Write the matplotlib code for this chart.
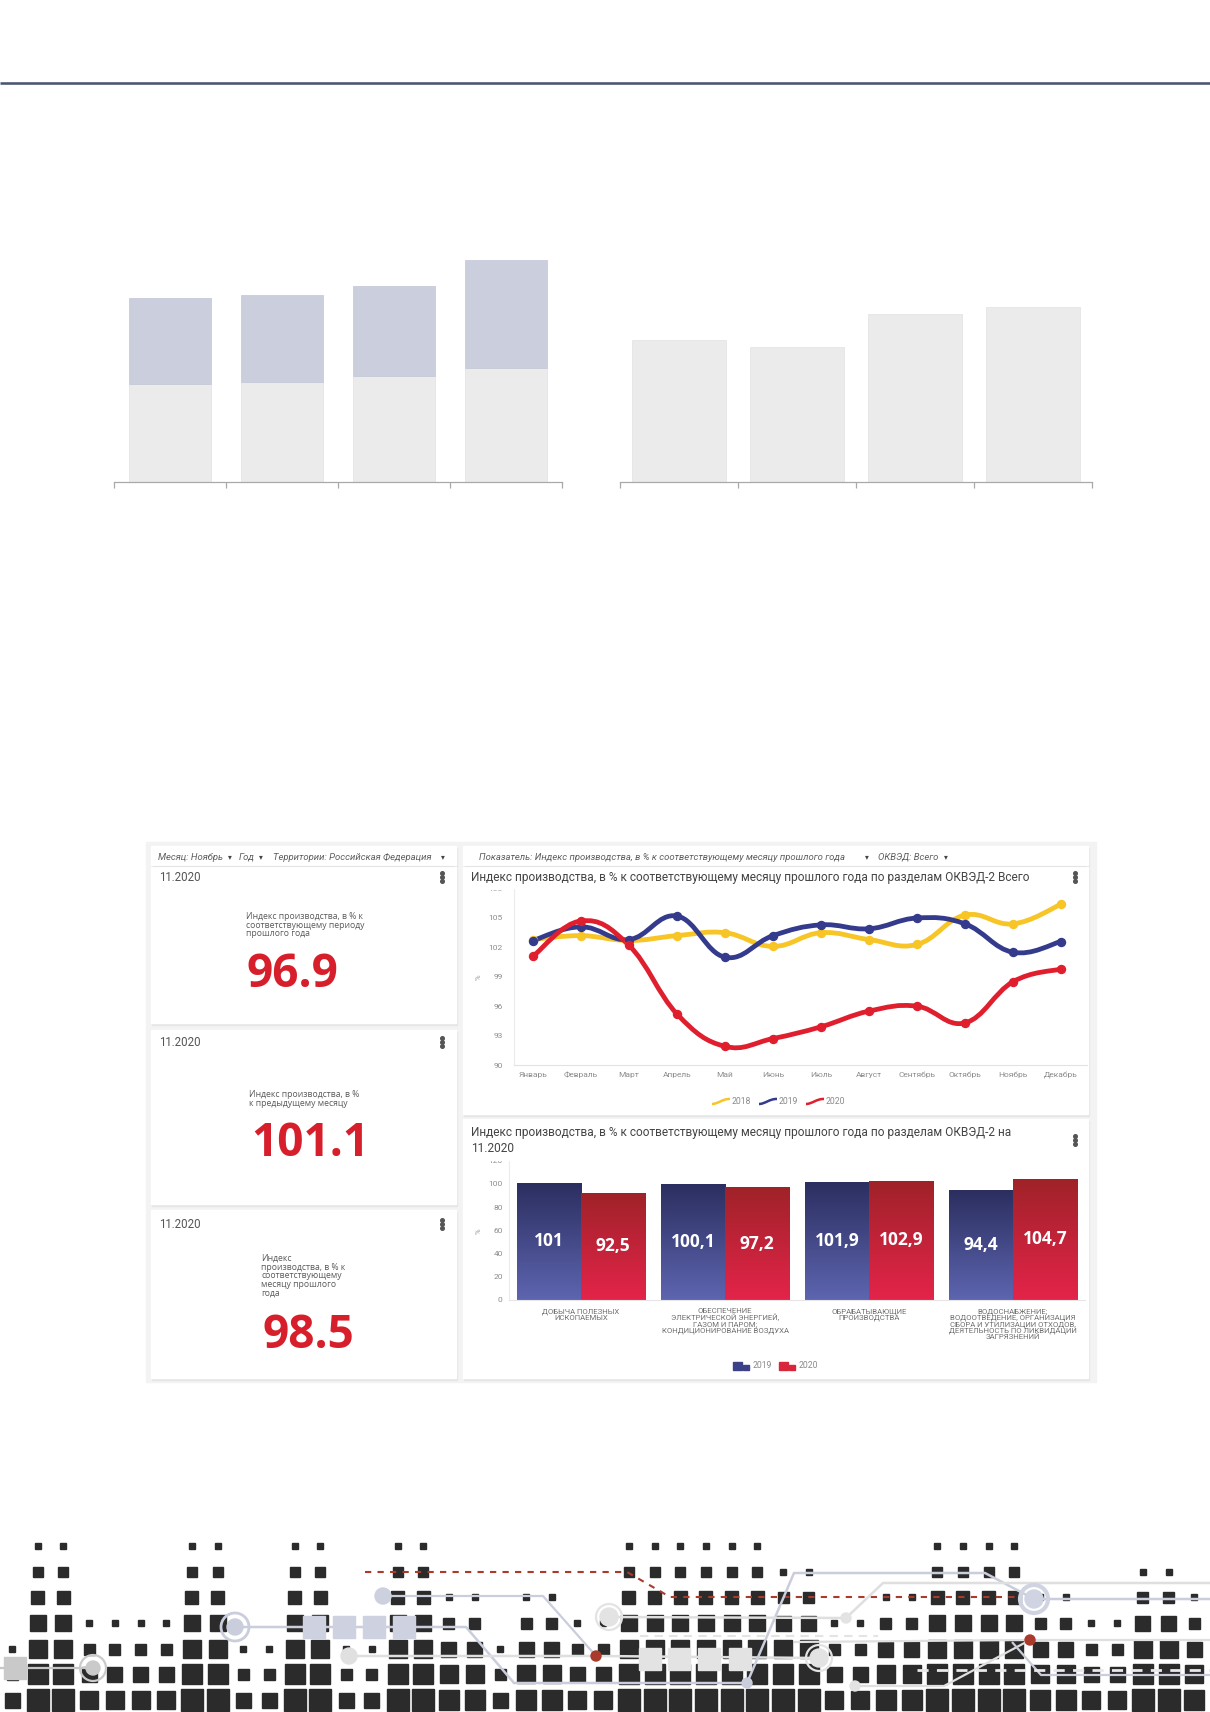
import numpy as np
import matplotlib
matplotlib.use("Agg")
import matplotlib.pyplot as plt
from matplotlib.patches import Rectangle, Circle, PathPatch
from matplotlib.path import Path
from matplotlib.colors import LinearSegmentedColormap

W, H = 1210, 1712
PT = 0.72  # points per pixel at dpi 100

# --- data ---------------------------------------------------------------
top_left_base = [98, 100, 106, 114]
top_left_upper = [86, 87, 90, 108]
top_right_vals = [142, 135, 168, 175]

months = ["Январь", "Февраль", "Март", "Апрель", "Май", "Июнь",
          "Июль", "Август", "Сентябрь", "Октябрь", "Ноябрь", "Декабрь"]
years = ["2018", "2019", "2020"]
idx_2018 = [102.8, 103.2, 102.7, 103.2, 103.5, 102.1, 103.5, 102.8, 102.3, 105.3, 104.4, 106.4]
idx_2019 = [102.7, 104.1, 102.8, 105.2, 101.0, 103.2, 104.3, 103.9, 105.0, 104.4, 101.5, 102.6]
idx_2020 = [101.1, 104.7, 102.2, 95.2, 91.9, 92.7, 93.9, 95.5, 96.0, 94.3, 98.5, 99.8]
line_ticks = [90, 93, 96, 99, 102, 105, 108]

sectors = [
    "ДОБЫЧА ПОЛЕЗНЫХ\nИСКОПАЕМЫХ",
    "ОБЕСПЕЧЕНИЕ\nЭЛЕКТРИЧЕСКОЙ ЭНЕРГИЕЙ,\nГАЗОМ И ПАРОМ;\nКОНДИЦИОНИРОВАНИЕ ВОЗДУХА",
    "ОБРАБАТЫВАЮЩИЕ\nПРОИЗВОДСТВА",
    "ВОДОСНАБЖЕНИЕ;\nВОДООТВЕДЕНИЕ, ОРГАНИЗАЦИЯ\nСБОРА И УТИЛИЗАЦИИ ОТХОДОВ,\n"
    "ДЕЯТЕЛЬНОСТЬ ПО ЛИКВИДАЦИИ\nЗАГРЯЗНЕНИЙ",
]
bar_2019 = [101, 100.1, 101.9, 94.4]
bar_2020 = [92.5, 97.2, 102.9, 104.7]
bar_ticks = [0, 20, 40, 60, 80, 100, 120]

kpi_period = "11.2020"
kpi_labels = [
    "Индекс производства, в % к\nсоответствующему периоду\nпрошлого года",
    "Индекс производства, в %\nк предыдущему месяцу",
    "Индекс\nпроизводства, в % к\nсоответствующему\nмесяцу прошлого\nгода",
]
kpi_values = ["96.9", "101.1", "98.5"]

# decorative skyline at the bottom: number of filled rows per column
sky_heights = [3, 7, 7, 4, 4, 4, 4, 7, 7, 3, 3, 7, 7, 3, 3, 7, 7, 5, 5, 3,
               5, 5, 4, 4, 7, 7, 7, 7, 7, 7, 6, 6, 4, 4, 5, 5, 7, 7, 7, 7,
               5, 5, 4, 4, 6, 6, 5]

plt.rcParams['font.family'] = ['Roboto', 'DejaVu Sans']
NUM_FONT = ['Open Sans', 'DejaVu Sans']

C_YEL, C_NAVY, C_RED = '#f7c526', '#343a8c', '#e01f2e'
C_KPI = '#d71f2b'
C_TICK = '#8c8c8c'

fig = plt.figure(figsize=(W / 100, H / 100), dpi=100)


def px_axes(x0, y0, x1, y1, z=0):
    return fig.add_axes([x0 / W, 1 - y1 / H, (x1 - x0) / W, (y1 - y0) / H], zorder=z)


def overlay(z):
    ax = px_axes(0, 0, W, H, z)
    ax.set_xlim(0, W)
    ax.set_ylim(H, 0)
    ax.axis('off')
    return ax


bg = overlay(-5)
fg = overlay(5)

# header rule
bg.plot([0, W], [83, 83], color='#4b5772', lw=2.6 * PT, solid_capstyle='butt')


# --- top bar charts (no labels in the source) ----------------------------
def plain_axes(ax, n):
    ax.set_xlim(-0.5, n - 0.5)
    ax.set_ylim(0, 350)
    ax.patch.set_alpha(0)
    for s in ['left', 'top', 'right']:
        ax.spines[s].set_visible(False)
    ax.spines['bottom'].set_color('#a9a9a9')
    ax.spines['bottom'].set_linewidth(0.9)
    ax.set_xticks(np.arange(n + 1) - 0.5)
    ax.set_xticklabels([])
    ax.tick_params(axis='x', length=6 * PT, color='#a9a9a9', width=0.9)
    ax.set_yticks([])


axL = px_axes(114, 132, 562, 482)
xl = np.arange(len(top_left_base))
axL.bar(xl, top_left_base, width=0.73, color='#ebebeb', edgecolor='#e2e2e2', lw=0.5)
axL.bar(xl, top_left_upper, bottom=top_left_base, width=0.73, color='#cbcfdd',
        edgecolor='#c3c7d6', lw=0.5)
plain_axes(axL, len(top_left_base))

axR = px_axes(620, 132, 1092, 482)
xr = np.arange(len(top_right_vals))
axR.bar(xr, top_right_vals, width=0.8, color='#ebebeb', edgecolor='#e2e2e2', lw=0.5)
plain_axes(axR, len(top_right_vals))

# --- dashboard frame ------------------------------------------------------
bg.add_patch(Rectangle((146, 842), 950, 540, color='#f3f3f3', zorder=0))
cards = [(151, 846, 456, 865), (151, 867, 456, 1023), (151, 1030, 456, 1204),
         (151, 1210, 456, 1378), (463, 846, 1088, 865), (463, 867, 1088, 1114),
         (463, 1119, 1088, 1378)]
for x0, y0, x1, y1 in cards:
    bg.add_patch(Rectangle((x0 + 1, y0 + 1.5), x1 - x0, y1 - y0, color='#e6e6e6', zorder=1))
    bg.add_patch(Rectangle((x0, y0), x1 - x0, y1 - y0, color='white', zorder=2))
bg.plot([153, 454], [866, 866], color='#e4e4e4', lw=0.8, zorder=3)
bg.plot([465, 1086], [866, 866], color='#e4e4e4', lw=0.8, zorder=3)

ftxt = dict(fontsize=6.8, style='italic', color='#5f5f5f', va='center', zorder=4)
bg.text(158, 857, "Месяц: Ноябрь", **ftxt)
bg.text(239, 857, "Год", **ftxt)
bg.text(273, 857, "Территории: Российская Федерация", **ftxt)
bg.text(479, 857, "Показатель: Индекс производства, в % к соответствующему месяцу прошлого года", **ftxt)
bg.text(878, 857, "ОКВЭД: Всего", **ftxt)
for xa in [230, 261, 443, 867, 946]:
    bg.text(xa, 857, "▾", fontsize=5.5, color='#444', ha='center', va='center',
            family='DejaVu Sans', zorder=4)


def kebab(x, y):
    bg.plot([x, x, x], [y - 4, y, y + 4], 'o', ms=2.6, color='#555555', zorder=4)


# KPI cards
kpi_period_y = [877, 1042, 1224]
kpi_label_xy = [(246, 912), (249, 1090), (261, 1254)]
kpi_value_xy = [(247, 987), (251, 1156), (262, 1348)]
for i in range(3):
    bg.text(159, kpi_period_y[i], kpi_period, fontsize=8.3, color='#555555',
            va='center', zorder=4)
    kebab(442, kpi_period_y[i])
    lx, ly = kpi_label_xy[i]
    bg.text(lx, ly, kpi_labels[i], fontsize=6.2, color='#5a5a5a', va='top',
            linespacing=0.95, family=NUM_FONT, zorder=4)
    vx, vy = kpi_value_xy[i]
    bg.text(vx, vy, kpi_values[i], fontsize=33, color=C_KPI, weight='bold',
            va='baseline', family=NUM_FONT, zorder=4)

# --- line chart -----------------------------------------------------------
fg.text(471, 877, "Индекс производства, в % к соответствующему месяцу прошлого года "
        "по разделам ОКВЭД-2 Всего", fontsize=8.6, color='#444444', va='center', zorder=4)
kebab(1075, 877)


def spline(xs, ys, k=0.2):
    pts = np.column_stack([xs, ys]).astype(float)
    n = len(pts)
    verts, codes = [pts[0]], [Path.MOVETO]
    for i in range(n - 1):
        p0, p1 = pts[max(i - 1, 0)], pts[i]
        p2, p3 = pts[i + 1], pts[min(i + 2, n - 1)]
        verts += [p1 + (p2 - p0) * k, p2 - (p3 - p1) * k, p2]
        codes += [Path.CURVE4] * 3
    return Path(verts, codes)


axLn = px_axes(514, 888.6, 1087, 1065, z=1)
axLn.patch.set_alpha(0)
xm = np.arange(len(months))
for vals, col in [(idx_2018, C_YEL), (idx_2019, C_NAVY), (idx_2020, C_RED)]:
    axLn.add_patch(PathPatch(spline(xm, vals), fill=False, edgecolor=col,
                             lw=4.8 * PT, capstyle='round', joinstyle='round'))
    axLn.plot(xm, vals, 'o', ms=8 * PT, color=col)
axLn.set_xlim(-0.396, 11.54)
axLn.set_ylim(90, 108)
for s in ['top', 'right']:
    axLn.spines[s].set_visible(False)
axLn.spines['left'].set_color('#ececec')
axLn.spines['bottom'].set_color('#e2e2e2')
axLn.set_yticks(line_ticks)
axLn.set_xticks(xm, labels=months)
axLn.tick_params(axis='both', length=0, labelsize=6, labelcolor=C_TICK)
axLn.tick_params(axis='y', pad=8)
axLn.tick_params(axis='x', pad=5)
fg.add_patch(Rectangle((488, 879), 24, 9.5, color='white', zorder=1))
fg.text(479, 977, "%", fontsize=5.5, color='#9a9a9a', rotation=90, ha='center', va='center')

# legend of the line chart
leg_x = [712, 759, 806]
for xi, col, yr in zip(leg_x, [C_YEL, C_NAVY, C_RED], years):
    icon = Path([(xi, 1104), (xi + 6, 1104), (xi + 11, 1098.5), (xi + 18, 1099)],
                [Path.MOVETO, Path.CURVE4, Path.CURVE4, Path.CURVE4])
    bg.add_patch(PathPatch(icon, fill=False, edgecolor=col, lw=1.8, zorder=4))
    bg.text(xi + 20, 1101, yr, fontsize=6.2, color='#8a8a8a', va='center', zorder=4)

# --- grouped bar chart ----------------------------------------------------
fg.text(471, 1126, "Индекс производства, в % к соответствующему месяцу прошлого года "
        "по разделам ОКВЭД-2 на\n11.2020", fontsize=8.6, color='#444444', va='top',
        linespacing=1.3, zorder=4)
kebab(1075, 1140)

axB = px_axes(509, 1160.8, 1085, 1300, z=1)
axB.patch.set_alpha(0)
xb = np.arange(len(sectors))
bw = 0.447
cm_blue = LinearSegmentedColormap.from_list('b', ['#5d65b0', '#2b2e5f'])
cm_red = LinearSegmentedColormap.from_list('r', ['#e4244a', '#9f2228'])
grad = np.linspace(0, 1, 256).reshape(-1, 1)
for vals, off, cm in [(bar_2019, -bw / 2, cm_blue), (bar_2020, bw / 2, cm_red)]:
    bars = axB.bar(xb + off, vals, width=bw, color='none', edgecolor='none')
    for b, v in zip(bars, vals):
        x0 = b.get_x()
        im = axB.imshow(grad, extent=[x0, x0 + bw, 0, v], origin='lower', cmap=cm,
                        aspect='auto', interpolation='bilinear', zorder=2)
        im.set_clip_path(b)
        axB.text(x0 + bw / 2, v / 2, f"{v:g}".replace('.', ','), color='white',
                 fontsize=12.5, weight='bold', ha='center', va='center',
                 family=NUM_FONT, zorder=3)
axB.set_xlim(-0.5, len(sectors) - 0.5)
axB.set_ylim(0, 120)
for s in ['top', 'right']:
    axB.spines[s].set_visible(False)
axB.spines['left'].set_color('#ececec')
axB.spines['bottom'].set_color('#e6e6e6')
axB.set_yticks(bar_ticks)
axB.set_xticks(xb, labels=sectors)
axB.tick_params(axis='both', length=0, labelsize=6, labelcolor=C_TICK)
axB.tick_params(axis='y', pad=4.5)
axB.tick_params(axis='x', pad=6, labelsize=5.6, labelcolor='#707070')
for t in axB.get_xticklabels():
    t.set_multialignment('center')
    t.set_linespacing(0.98)
fg.add_patch(Rectangle((488, 1154), 24, 5.5, color='white', zorder=1))
fg.text(479, 1231, "%", fontsize=5.5, color='#9a9a9a', rotation=90, ha='center', va='center')

# legend of the bar chart
for xi, col, yr in [(733, '#3b4088', "2019"), (779, '#d8263a', "2020")]:
    bg.add_patch(Rectangle((xi, 1361.5), 9, 8.5, color=col, zorder=4))
    bg.add_patch(Rectangle((xi + 10, 1365), 6, 5, color=col, zorder=4))
    bg.text(xi + 20, 1366, yr, fontsize=6.2, color='#8a8a8a', va='center', zorder=4)

# --- decorative skyline at the bottom ------------------------------------
row_y = [1700, 1674, 1649, 1623, 1597, 1572, 1546]
row_size = [22, 20, 18, 16, 13, 10, 7.5]
depth_size = [6, 11, 15, 18, 20, 22, 22]
for i, hgt in enumerate(sky_heights):
    cx = 12 + 25.7 * i
    for r in range(hgt):
        s = min(row_size[r], depth_size[hgt - 1 - r])
        bg.add_patch(Rectangle((cx - s / 2, row_y[r] - s / 2), s, s, color='#2b2b2b', zorder=1))

BLU, LGR, GRY, RED = '#c9cddc', '#dfdfdf', '#c6c6c6', '#a93a2c'


def wire(pts, col, lw=1.6, ls='-'):
    p = np.array(pts, float)
    bg.plot(p[:, 0], p[:, 1], color=col, lw=lw, ls=ls, zorder=2, solid_capstyle='butt')


def node(x, y, col, r=7, ring=None, rlw=1.6):
    bg.add_patch(Circle((x, y), r, color=col, zorder=3))
    if ring:
        bg.add_patch(Circle((x, y), ring, fill=False, edgecolor=col, lw=rlw, zorder=3))


wire([(0, 1668), (93, 1668)], GRY)
bg.add_patch(Rectangle((4, 1657), 22, 22, color='#c9c9c9', zorder=3))
node(93, 1668, '#cacaca', 7, 13)

wire([(235, 1627), (466, 1627), (514, 1683), (747, 1683)], BLU, 1.8)
for cx in [314, 344, 374, 404]:
    bg.add_patch(Rectangle((cx - 11, 1616), 22, 22, color='#cdd1e0', zorder=3))
node(235, 1627, BLU, 8, 14, 2)
wire([(349, 1656), (596, 1656), (819, 1658)], LGR, 1.8)
for cx in [650, 679, 709, 740]:
    bg.add_patch(Rectangle((cx - 11, 1648), 22, 22, color='#e3e3e3', zorder=3))
node(349, 1656, '#e0e0e0', 8)
node(819, 1658, '#e3e3e3', 9, 13)
wire([(383, 1596), (543, 1596), (596, 1656)], BLU, 1.6)
node(383, 1596, '#cdd1df', 8)
wire([(365, 1572), (627, 1572), (670, 1597), (1021, 1597)], RED, 1.5, (0, (3, 3)))
node(596, 1656, RED, 5)
wire([(747, 1683), (794, 1573), (985, 1573), (1034, 1599), (1210, 1599)], BLU, 1.8)
node(747, 1683, BLU, 5)
node(1034, 1599, '#d0d4e2', 9, 14, 3)
wire([(609, 1617), (846, 1618), (883, 1583), (1210, 1583)], LGR, 1.8)
node(609, 1617, '#e3e3e3', 9, 13)
node(846, 1618, '#e3e3e3', 5)
wire([(794, 1642), (1030, 1640), (1210, 1640)], LGR, 1.6)
wire([(1030, 1640), (944, 1686), (855, 1686)], LGR, 1.6)
node(855, 1686, '#e3e3e3', 5)
wire([(1012, 1642), (1041, 1675), (1210, 1675)], BLU, 1.6)
node(1030, 1640, RED, 5)
wire([(640, 1636), (878, 1636)], '#e4e4e4', 1.5, (0, (4, 3)))
wire([(917, 1670), (1210, 1670)], '#e8e8e8', 2, (0, (4, 3)))

fig.savefig("out.png", dpi=100)
